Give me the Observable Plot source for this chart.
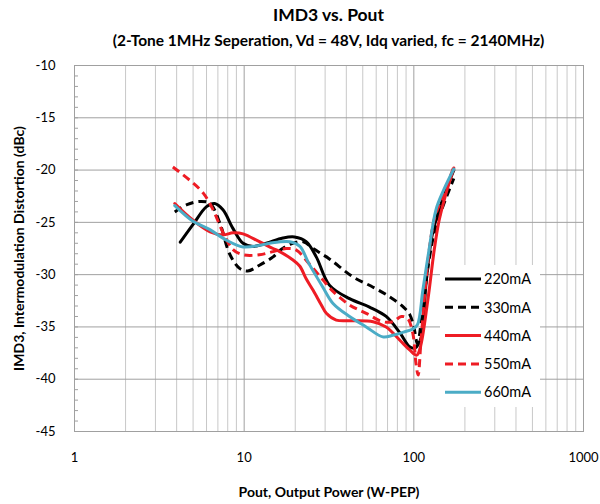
<!DOCTYPE html>
<html>
<head>
<meta charset="utf-8">
<script src="https://cdn.jsdelivr.net/npm/d3@7"></script>
<script src="https://cdn.jsdelivr.net/npm/@observablehq/plot@0.6"></script>
<style>
  body { margin: 0; background: #fff; }
  #wrap { position: relative; width: 600px; height: 504px; font-family: Lato, "Open Sans", sans-serif; color: #000; }
  .title { position: absolute; left: 57px; width: 543px; top: 4px; text-align: center; font-weight: bold; font-size: 17.5px; line-height: 22px; }
  .subtitle { position: absolute; left: 57px; width: 543px; top: 31px; text-align: center; font-weight: bold; font-size: 15.5px; line-height: 18px; }
  #chart { position: absolute; left: 0; top: 52px; }
  #chart g[aria-label="x-axis label"] text, #chart g[aria-label="y-axis label"] text { font-weight: bold; font-size: 14px; }
</style>
</head>
<body>
<div id="wrap">
  <div class="title">IMD3 vs. Pout</div>
  <div class="subtitle">(2-Tone 1MHz Seperation, Vd = 48V, Idq varied, fc = 2140MHz)</div>
  <div id="chart"></div>
</div>
<script>
// Series names
const seriesNames = ["220mA", "330mA", "440mA", "550mA", "660mA"];

// Pout (W-PEP) and IMD3 (dBc) per series
const p220 = [4.2, 5.0, 6.0, 6.7, 7.5, 8.6, 9.85, 11.3, 13.5, 16.9, 19.8, 23.2, 26.6, 31.8, 41.8, 54.8, 68.7, 83, 94.5, 102, 111, 118, 129, 150, 172];
const d220 = [-26.9, -25.2, -23.5, -23.2, -23.8, -25.6, -27.0, -27.3, -27.0, -26.5, -26.4, -26.85, -28.3, -31.0, -32.3, -33.1, -34.0, -35.6, -36.9, -37.0, -35.9, -30.8, -26.0, -22.5, -20.0];

const p330 = [3.9, 4.6, 5.5, 6.3, 7.2, 8.2, 9.4, 10.5, 12.3, 14.8, 16.5, 18.6, 22.3, 25.5, 31.8, 43.7, 57.5, 71.7, 86.9, 94.5, 100, 105, 113, 123, 135, 172];
const d330 = [-24.0, -23.3, -23.0, -23.2, -25.1, -28.0, -29.4, -29.65, -29.1, -28.3, -27.6, -27.1, -26.85, -27.5, -28.5, -30.2, -31.2, -32.1, -33.1, -33.8, -35.0, -36.6, -33.1, -28.6, -25.4, -20.8];

const p440 = [3.9, 5.0, 6.3, 7.5, 8.6, 9.85, 12.3, 14.8, 16.2, 19.4, 21.3, 23.2, 25.5, 28.5, 30.5, 34.9, 43.7, 57.5, 68.7, 83, 94.5, 104, 109, 121, 132, 141, 155, 172];
const d440 = [-23.2, -24.8, -25.9, -26.2, -26.0, -26.1, -26.85, -27.5, -27.8, -28.6, -29.2, -30.4, -31.5, -32.9, -33.7, -34.35, -34.4, -34.5, -35.0, -36.3, -37.2, -37.7, -37.0, -32.4, -27.6, -24.8, -22.2, -19.8];

const p550 = [3.8, 4.8, 5.74, 6.56, 7.52, 8.6, 9.85, 12.3, 14.8, 17.7, 20.3, 24.0, 29.1, 33.4, 41.8, 52.4, 65.6, 75.3, 84.4, 92, 98.6, 103, 106, 110, 118, 126, 133, 150, 172];
const d550 = [-19.7, -21.0, -22.2, -23.8, -26.0, -27.6, -28.1, -28.1, -27.8, -27.5, -27.65, -28.9, -30.5, -31.6, -32.9, -33.7, -34.5, -34.5, -34.0, -34.2, -35.6, -38.5, -39.6, -36.5, -30.5, -26.5, -24.5, -22.3, -19.7];

const p660 = [3.9, 5.0, 6.28, 7.85, 9.85, 12.3, 14.1, 18.6, 21.3, 24.0, 29.1, 33.4, 41.8, 52.4, 65.6, 75.3, 86.9, 98.6, 105, 113, 123, 135, 150, 172];
const d660 = [-23.4, -24.9, -25.7, -26.7, -27.35, -27.2, -27.0, -26.85, -27.3, -28.9, -31.2, -32.75, -34.0, -35.0, -35.95, -35.8, -35.5, -35.2, -34.8, -31.5, -27.6, -23.8, -21.9, -19.9];

// Axis ticks
const xTicks = [1, 10, 100, 1000];
const xMinor = [2, 3, 4, 5, 6, 7, 8, 9, 20, 30, 40, 50, 60, 70, 80, 90, 200, 300, 400, 500, 600, 700, 800, 900];
const yTicks = [-45, -40, -35, -30, -25, -20, -15, -10];
const yMinor = d3.range(-45, -9, 1);

// Styles
const colors = ["#000000", "#000000", "#ee1c24", "#ee1c24", "#4bacc6"];
const dashes = [null, "8,5", null, "8,5", null];

const pArr = [p220, p330, p440, p550, p660];
const dArr = [d220, d330, d440, d550, d660];
const tables = seriesNames.map((s, i) => pArr[i].map((p, j) => ({series: s, p, d: dArr[i][j]})));

const lineMarks = tables.map((t, i) => Plot.line(t, {
  x: "p", y: "d", stroke: colors[i], strokeWidth: 3,
  strokeDasharray: dashes[i] || undefined, curve: "catmull-rom",
  strokeLinecap: dashes[i] ? "butt" : "round", strokeLinejoin: "round"
}));

const plot = Plot.plot({
  width: 600,
  height: 452,
  marginLeft: 74,
  marginRight: 17,
  marginTop: 13,
  marginBottom: 73,
  style: {fontFamily: "Lato, 'Open Sans', sans-serif", fontSize: "13px", color: "#000", background: "#fff"},
  x: {type: "log", domain: [1, 1000]},
  y: {domain: [-45, -10]},
  marks: [
    Plot.ruleX(xMinor, {stroke: "#c8c8c8", strokeWidth: 1}),
    Plot.ruleX(xTicks, {stroke: "#a0a0a0", strokeWidth: 1}),
    Plot.ruleY(yTicks, {stroke: "#a0a0a0", strokeWidth: 1}),
    Plot.frame({stroke: "#a0a0a0"}),
    Plot.axisY(yMinor, {tickSize: -4, tickFormat: () => "", stroke: "#a0a0a0", label: null}),
    Plot.axisY(yTicks, {tickSize: 0, tickPadding: 19, tickFormat: d => String(d),
      label: "IMD3, Intermodulation Distortion (dBc)", labelAnchor: "center", labelOffset: 60, labelArrow: "none"}),
    Plot.axisX(xTicks, {tickSize: 0, tickPadding: 21, tickFormat: d => String(d),
      label: "Pout, Output Power (W-PEP)", labelAnchor: "center", labelOffset: 65, labelArrow: "none"}),
    ...lineMarks
  ]
});

document.getElementById("chart").appendChild(plot);

// Legend drawn into the plot's SVG
const svg = d3.select(plot);
const lg = svg.append("g").attr("class", "legend").attr("text-anchor", "start");
lg.append("rect").attr("x", 440).attr("y", 213).attr("width", 100).attr("height", 142).attr("fill", "#fff");
seriesNames.forEach((s, i) => {
  const yy = 227 + i * 28.3;
  lg.append("line").attr("x1", 445).attr("x2", 481).attr("y1", yy).attr("y2", yy)
    .attr("stroke", colors[i]).attr("stroke-width", 3)
    .attr("stroke-dasharray", dashes[i]);
  lg.append("text").attr("x", 484).attr("y", yy).attr("dy", "0.36em").attr("text-anchor", "start")
    .attr("font-size", "14.5px").attr("font-family", "Lato, 'Open Sans', sans-serif").attr("fill", "#000").text(s);
});
</script>
</body>
</html>
